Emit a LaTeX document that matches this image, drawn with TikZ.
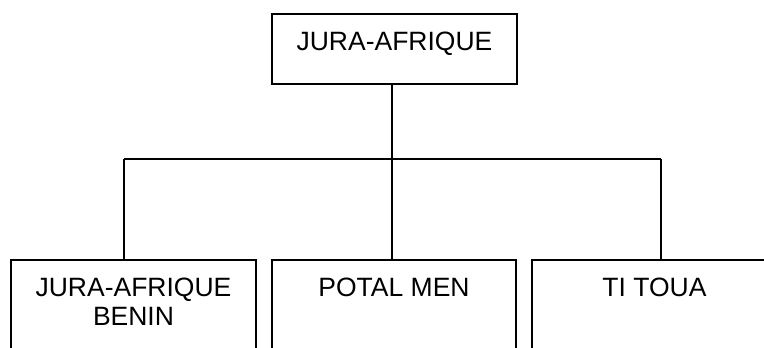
\documentclass[tikz,border=0pt]{standalone}
\usepackage{fontspec}
\setmainfont{Liberation Sans}
\usetikzlibrary{positioning}

\begin{document}
\begin{tikzpicture}[x=1bp,y=-1bp,line width=1.4bp,
        unitbox/.style={draw,rectangle,minimum width=245bp,inner sep=0pt},
        unittext/.style={inner sep=0pt,align=center,font=\fontsize{26.5bp}{29bp}\selectfont}]
        % Frame
        \clip (0,0) rectangle (764,347);
        
        % Boxes
        \node[unitbox,minimum height=70bp] (top) at (394.5,49) {};
        \node[unitbox,minimum height=120bp] (benin) at (133.5,320) {};
        \node[unitbox,minimum width=244bp,minimum height=120bp] (potal) at (394,320) {};
        \node[unitbox,minimum height=120bp] (titoua) at (654.5,320) {};
        
        % Texts
        \node[unittext,below=18bp of top.north] (toptext) {JURA-AFRIQUE};
        \node[unittext,below=18bp of benin.north] (benintext) {JURA-AFRIQUE\\BENIN};
        \node[unittext,below=18bp of potal.north] (potaltext) {POTAL MEN};
        \node[unittext,below=18bp of titoua.north] (titouatext) {TI TOUA};
        
        % Joints on the bar
        \coordinate (jl) at (124,159);
        \coordinate (jm) at (392,159);
        \coordinate (jr) at (661,159);
        
        % Lines
        \draw (top.south -| jm) -- (jm);
        \draw (jl) -- (jr);
        \draw (jl) -- (jl |- benin.north);
        \draw (jm) -- (jm |- potal.north);
        \draw (jr) -- (jr |- titoua.north);
    \end{tikzpicture}
\end{document}
